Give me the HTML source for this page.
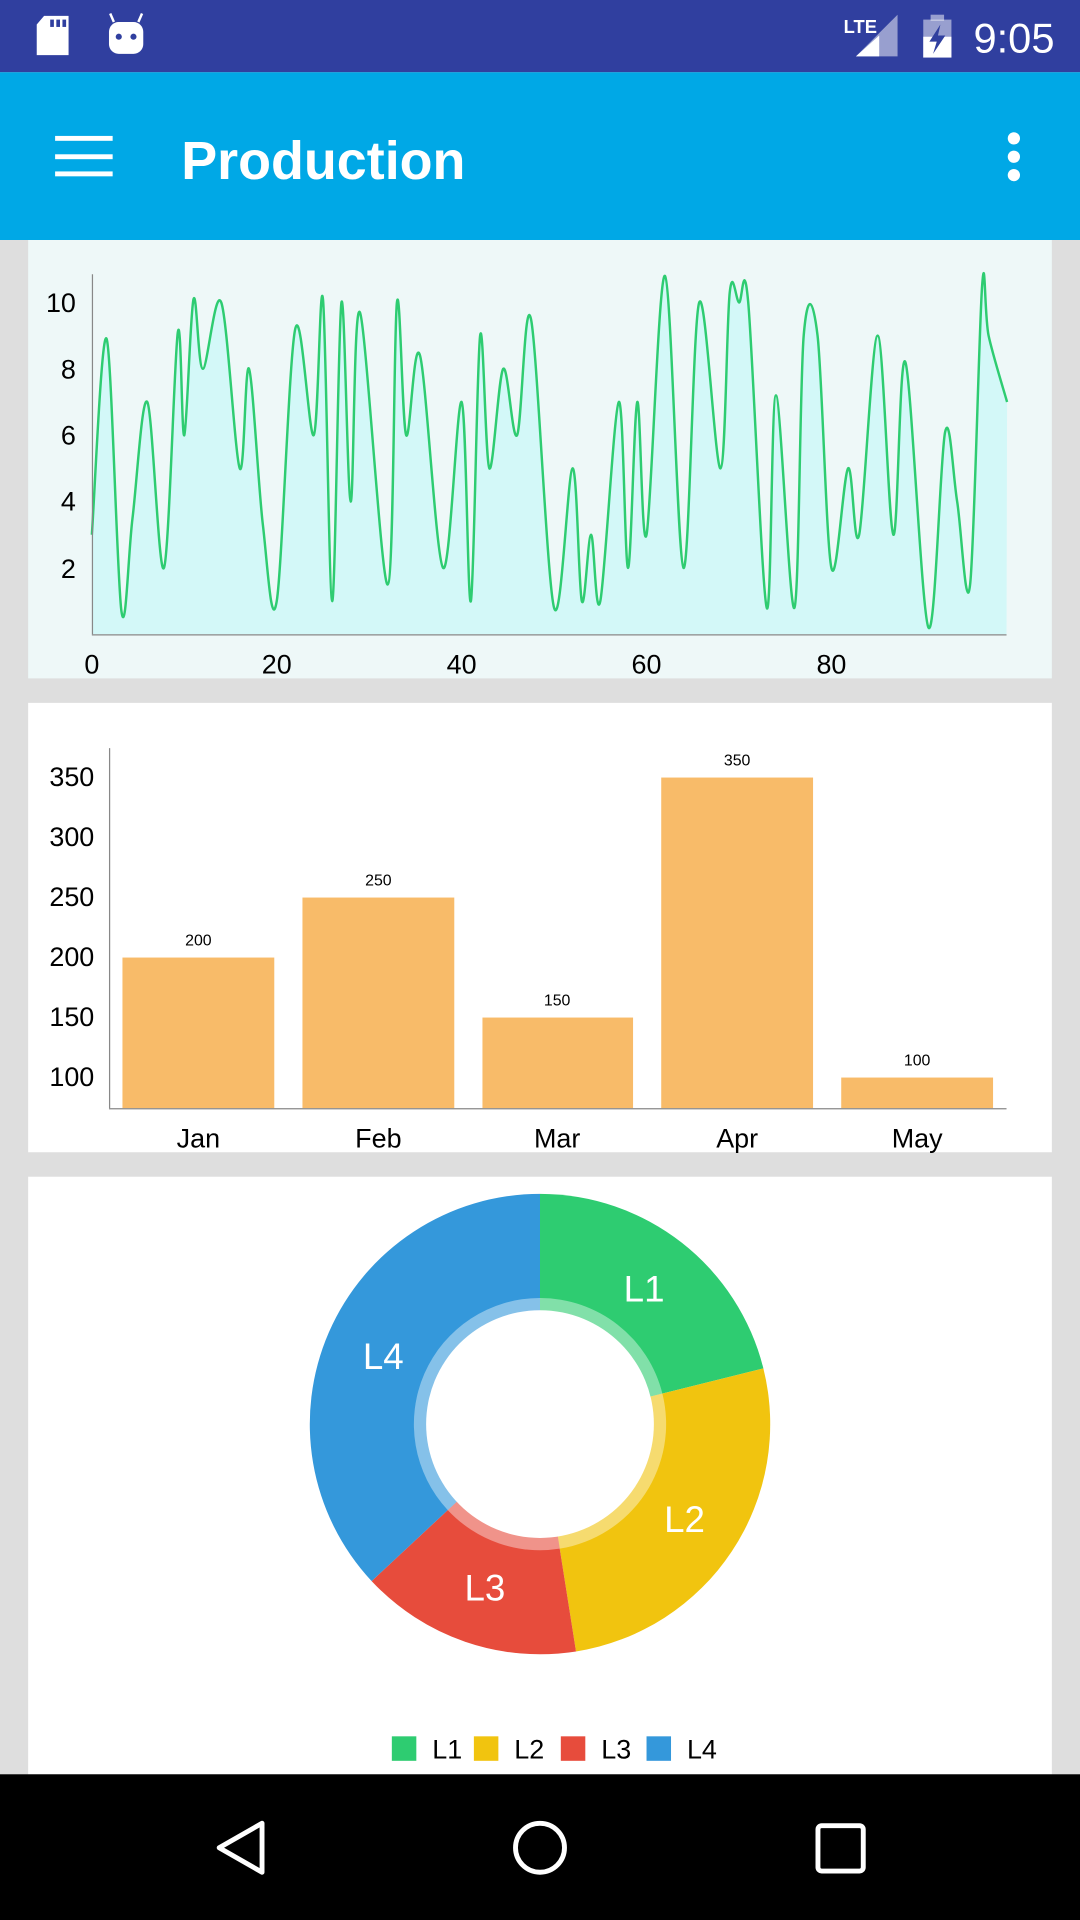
<!DOCTYPE html>
<html><head><meta charset="utf-8"><style>
html,body{margin:0;padding:0;background:#dedede;}
svg{display:block;font-family:"Liberation Sans",Roboto,sans-serif;}
</style></head><body>
<svg id="s" width="1080" height="1920" viewBox="0 0 882 1568" xmlns="http://www.w3.org/2000/svg">
<rect width="882" height="1568" fill="#dedede"/>
<!-- status bar -->
<rect width="882" height="59" fill="#303f9f"/>
<path d="M36 13 H56 V45 H30 V20 Z" fill="#fff"/>
<rect x="41" y="16" width="3" height="6" fill="#303f9f"/><rect x="46" y="16" width="3" height="6" fill="#303f9f"/><rect x="51" y="16" width="3" height="6" fill="#303f9f"/>
<rect x="89" y="18" width="28" height="26" rx="8" fill="#fff"/>
<line x1="93" y1="18" x2="90" y2="11" stroke="#fff" stroke-width="2"/><line x1="113" y1="18" x2="116" y2="11" stroke="#fff" stroke-width="2"/>
<circle cx="97" cy="30" r="2.5" fill="#303f9f"/><circle cx="109" cy="30" r="2.5" fill="#303f9f"/>
<text x="689" y="27" font-size="15" font-weight="bold" fill="#fff">LTE</text>
<path d="M733 12 V46 H699 Z" fill="#fff" opacity="0.5"/><path d="M718 29 V46 H699 Z" fill="#fff"/>
<rect x="754" y="16" width="23" height="31" fill="#fff" opacity="0.5"/><rect x="760" y="12" width="11" height="5" fill="#fff" opacity="0.5"/>
<rect x="754" y="30" width="23" height="17" fill="#fff"/>
<path d="M768 20 L759 34 H765 L762 44 L772 29 H766 Z" fill="#303f9f"/>
<text x="795" y="43" font-size="34" fill="#fff">9:05</text>
<!-- app bar -->
<rect y="59" width="882" height="137" fill="#00a8e6"/>
<rect x="45" y="111" width="47" height="4" fill="#fff"/><rect x="45" y="126" width="47" height="4" fill="#fff"/><rect x="45" y="140" width="47" height="4" fill="#fff"/>
<text x="148" y="146" font-size="44" font-weight="bold" fill="#fff">Production</text>
<circle cx="828" cy="113" r="5" fill="#fff"/><circle cx="828" cy="128" r="5" fill="#fff"/><circle cx="828" cy="143" r="5" fill="#fff"/>
<!-- card 1 -->
<rect x="23" y="196" width="836" height="358" fill="#eef8f8"/>
<path id="fill" fill="#d3f8f8"/>
<path id="line" fill="none" stroke="#2ecc71" stroke-width="2"/>
<line x1="75.5" y1="224" x2="75.5" y2="518" stroke="#888" stroke-width="1"/>
<line x1="75" y1="518.5" x2="822" y2="518.5" stroke="#888" stroke-width="1"/>
<g font-size="22" fill="#000" text-anchor="end">
<text x="62" y="255">10</text><text x="62" y="309">8</text><text x="62" y="363">6</text><text x="62" y="417">4</text><text x="62" y="472">2</text></g>
<g font-size="22" fill="#000" text-anchor="middle">
<text x="75" y="550">0</text><text x="226" y="550">20</text><text x="377" y="550">40</text><text x="528" y="550">60</text><text x="679" y="550">80</text></g>
<!-- card 2 -->
<rect x="23" y="574" width="836" height="367" fill="#fff"/>
<g fill="#f8bb69">
<rect x="100" y="782" width="124" height="123"/><rect x="247" y="733" width="124" height="172"/><rect x="394" y="831" width="123" height="74"/><rect x="540" y="635" width="124" height="270"/><rect x="687" y="880" width="124" height="25"/></g>
<line x1="89.5" y1="611" x2="89.5" y2="905" stroke="#888"/>
<line x1="89" y1="905.5" x2="822" y2="905.5" stroke="#888"/>
<g font-size="22" text-anchor="end"><text x="77" y="642">350</text><text x="77" y="691">300</text><text x="77" y="740">250</text><text x="77" y="789">200</text><text x="77" y="838">150</text><text x="77" y="887">100</text></g>
<g font-size="13" text-anchor="middle"><text x="162" y="772">200</text><text x="309" y="723">250</text><text x="455" y="821">150</text><text x="602" y="625">350</text><text x="749" y="870">100</text></g>
<g font-size="22" text-anchor="middle"><text x="162" y="937">Jan</text><text x="309" y="937">Feb</text><text x="455" y="937">Mar</text><text x="602" y="937">Apr</text><text x="749" y="937">May</text></g>
<!-- card 3 -->
<rect x="23" y="961" width="836" height="488" fill="#fff"/>
<g id="donut"></g>
<circle cx="441" cy="1163" r="93" fill="#fff"/>
<g font-size="30" fill="#fff" text-anchor="middle"><text x="526" y="1063">L1</text><text x="559" y="1251">L2</text><text x="396" y="1307">L3</text><text x="313" y="1118">L4</text></g>
<rect x="320" y="1418" width="20" height="20" fill="#2ecc71"/><rect x="387" y="1418" width="20" height="20" fill="#f1c40f"/><rect x="458" y="1418" width="20" height="20" fill="#e74c3c"/><rect x="528" y="1418" width="20" height="20" fill="#3498db"/>
<g font-size="22"><text x="353" y="1436">L1</text><text x="420" y="1436">L2</text><text x="491" y="1436">L3</text><text x="561" y="1436">L4</text></g>
<!-- nav -->
<rect y="1449" width="882" height="119" fill="#000"/>
<path d="M214 1489 V1529 L179 1509 Z" fill="none" stroke="#fff" stroke-width="4" stroke-linejoin="round"/>
<circle cx="441" cy="1509" r="20" fill="none" stroke="#fff" stroke-width="4"/>
<rect x="668" y="1491" width="37" height="37" rx="3" fill="none" stroke="#fff" stroke-width="4"/>
</svg>
<script>
var pts=[[0,3],[1.6,8.9],[3.2,0.7],[4.4,3.5],[6,7],[7.8,2],[9.3,9.1],[10,6],[11,10.1],[12,8],[14,10],[16,5],[17,8],[18.5,3.3],[20,1],[22,9.2],[24,6],[25,10.1],[26,1],[27,10],[28,4],[29,9.7],[32,1.5],[33,10],[34,6],[35.5,8.4],[38,2],[40,7],[41,1],[42,9],[43,5],[44.5,8],[46,6],[47.5,9.5],[50,0.8],[52,5],[53,1],[54,3],[55,1],[57,7],[58,2],[59,7],[60,3],[62,10.8],[64,2],[65.7,10],[68,5],[69,10.3],[70,10],[71,10],[73,0.8],[74,7.2],[76,0.8],[77,9],[78.5,9],[80,2],[81.8,5],[83,3],[85,9],[86.7,3],[88,8.2],[90.5,0.2],[92.3,6.1],[93.6,4],[95,1.5],[96.3,10.5],[97,9],[99,7]];
var P=pts.map(function(p){return [75+p[0]*7.55,518-p[1]*27.1];});
var d="M"+P[0][0]+" "+P[0][1];
for(var i=0;i<P.length-1;i++){var p0=P[i-1]||P[i],p1=P[i],p2=P[i+1],p3=P[i+2]||p2;
var c1=[p1[0]+(p2[0]-p0[0])/6,p1[1]+(p2[1]-p0[1])/6],c2=[p2[0]-(p3[0]-p1[0])/6,p2[1]-(p3[1]-p1[1])/6];
d+=" C"+c1+" "+c2+" "+p2;}
document.getElementById("line").setAttribute("d",d);
document.getElementById("fill").setAttribute("d",d+" L822 518 L75 518 Z");
var cx=441,cy=1163,segs=[[0,76,"#2ecc71"],[76,171,"#f1c40f"],[171,227,"#e74c3c"],[227,360,"#3498db"]],g=document.getElementById("donut"),h="";
function pt(a,r){a=(a-90)*Math.PI/180;return [cx+r*Math.cos(a),cy+r*Math.sin(a)];}
segs.forEach(function(s){var a=pt(s[0],188),b=pt(s[1],188),l=(s[1]-s[0])>180?1:0;
h+='<path d="M'+cx+' '+cy+' L'+a+' A188 188 0 '+l+' 1 '+b+' Z" fill="'+s[2]+'"/>';
var c=pt(s[0],103),e=pt(s[1],103);
h+='<path d="M'+cx+' '+cy+' L'+c+' A103 103 0 '+l+' 1 '+e+' Z" fill="#fff" opacity="0.4"/>';});
g.innerHTML=h;
</script>
</body></html>
